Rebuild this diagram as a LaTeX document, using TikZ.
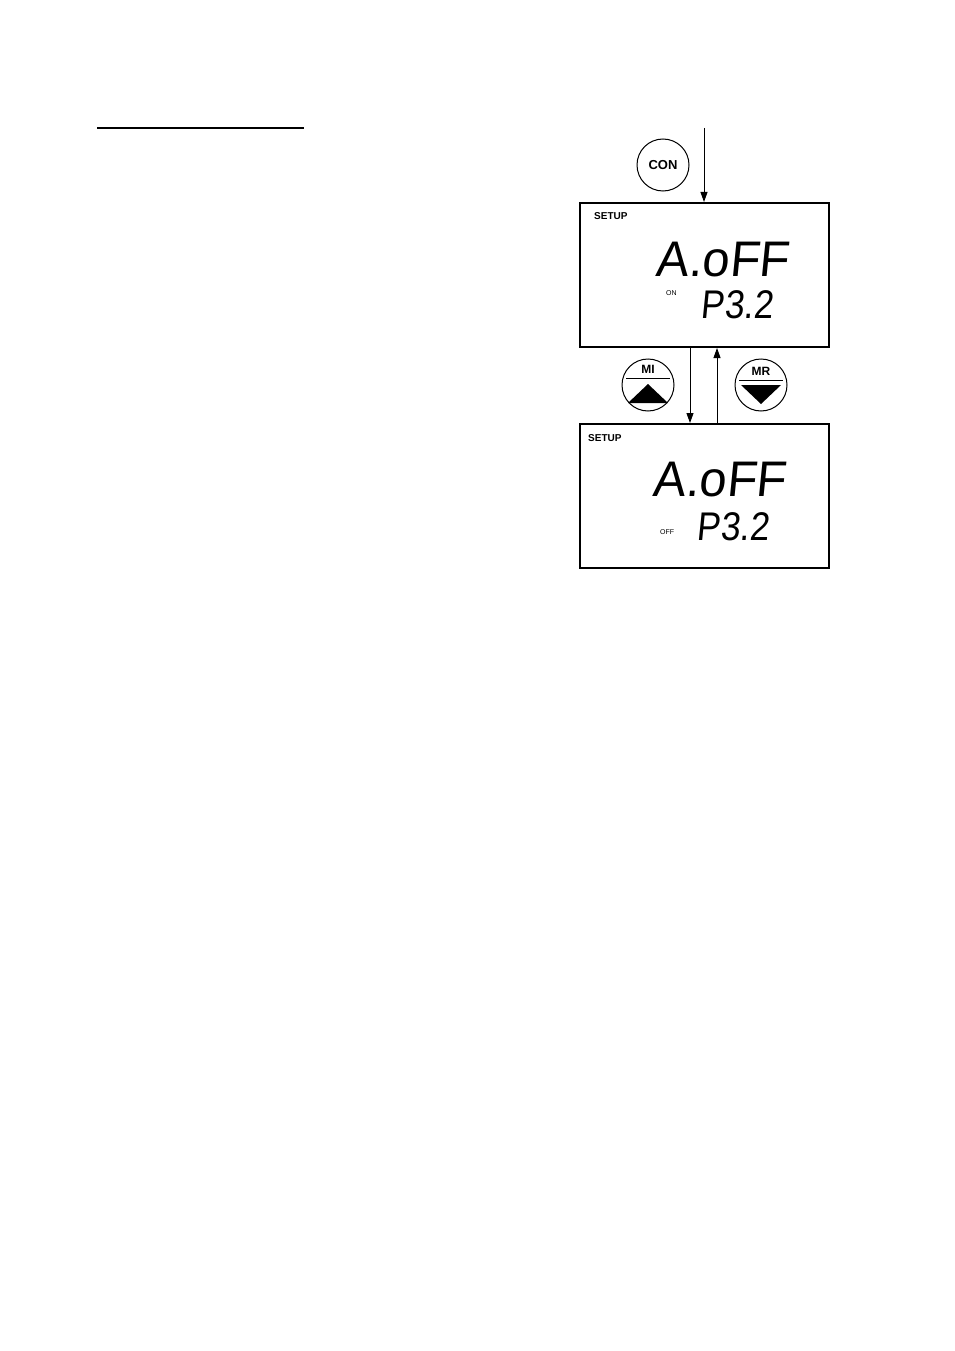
\documentclass[tikz,border=0pt]{standalone}
\usepackage{fontspec}
\setmainfont{Liberation Sans}
\usetikzlibrary{arrows.meta}
\begin{document}
\begin{tikzpicture}[x=1pt,y=-1pt,
  lcd/.style={draw,line width=2pt},
  btn/.style={draw,circle,minimum size=52pt,inner sep=0pt,line width=1pt},
  arr/.style={line width=0.9pt,-{Triangle[length=10pt,width=7pt]}},
  seg/.style={inner sep=0pt,anchor=west,font=\fontsize{50}{50}\selectfont,xslant=0.1,xscale=0.98},
  seg2/.style={inner sep=0pt,anchor=west,font=\fontsize{40}{40}\selectfont,xslant=0.1,xscale=0.88},
  lab/.style={inner sep=0pt,anchor=west,font=\bfseries\fontsize{10}{10}\selectfont},
  tiny/.style={inner sep=0pt,anchor=west,font=\fontsize{7}{7}\selectfont}]
\useasboundingbox (0,0) rectangle (954,1351);
\draw[line width=1.2pt] (97,128) -- (304,128);
\node[lcd,minimum width=249pt,minimum height=144pt,anchor=north west] (b1) at (579,202) {};
\node[lcd,minimum width=249pt,minimum height=144pt,anchor=north west] (b2) at (579,423) {};
\node[btn] (con) at (663,165) {\bfseries\fontsize{13}{13}\selectfont CON};
\coordinate (top) at (704,128);
\draw[arr] (top) -- (b1.north -| top);
\coordinate (dx) at (690,0);
\coordinate (ux) at (717,0);
\draw[arr] (b1.south -| dx) -- (b2.north -| dx);
\draw[arr] (b2.north -| ux) -- (b1.south -| ux);
\node[btn] (mi) at (648,385) {};
\node[font=\bfseries\fontsize{12}{12}\selectfont,inner sep=0pt] (mit) at (648,369) {MI};
\draw[line width=1pt] (626,378) -- (670,378);
\fill (628,403) -- (648,384) -- (668,403) -- cycle;
\node[btn] (mr) at (761,385) {};
\node[font=\bfseries\fontsize{12}{12}\selectfont,inner sep=0pt] (mrt) at (761,371) {MR};
\draw[line width=1pt] (739,380) -- (783,380);
\fill (741,385) -- (781,385) -- (761,404) -- cycle;
\node[lab] (s1) at (594,216) {SETUP};
\node[seg] (a1) at (657,260) {A.oFF};
\node[tiny] (on) at (666,293) {ON};
\node[seg2] (p1) at (702,305) {P3.2};
\node[lab] (s2) at (588,438) {SETUP};
\node[seg] (a2) at (654,480) {A.oFF};
\node[tiny] (off) at (660,532) {OFF};
\node[seg2] (p2) at (698,527) {P3.2};
\end{tikzpicture}
\end{document}
